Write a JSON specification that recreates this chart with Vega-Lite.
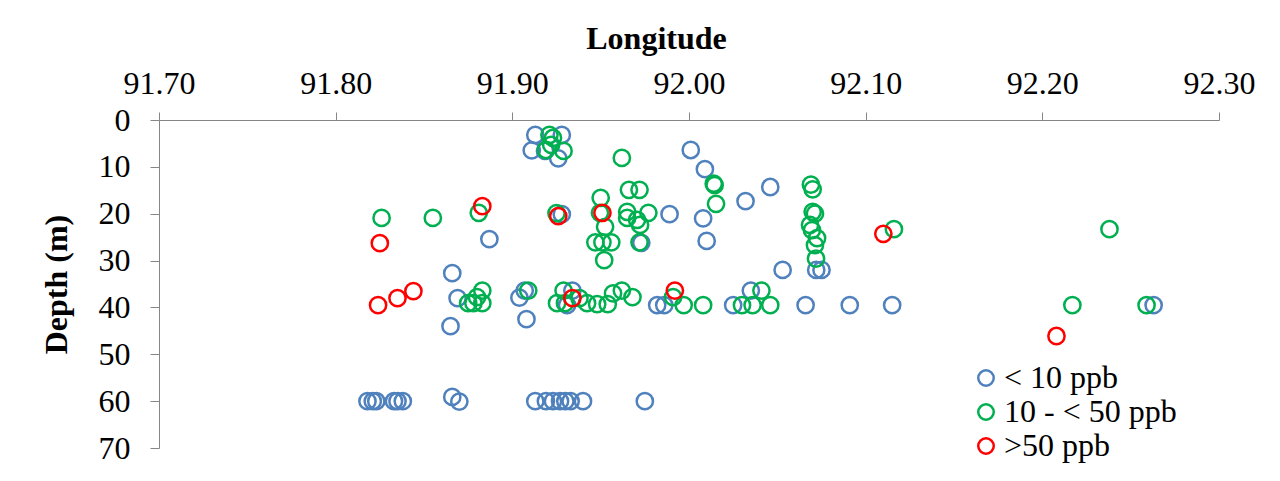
{
  "$schema": "https://vega.github.io/schema/vega-lite/v6.json",
  "width": 1060,
  "height": 328,
  "autosize": {"type": "none"},
  "padding": {"left": 159, "top": 120, "right": 61, "bottom": 33},
  "background": "white",
  "config": {
    "view": {"stroke": null},
    "font": "Liberation Serif",
    "axis": {
      "domainColor": "#868686",
      "tickColor": "#868686",
      "grid": false,
      "labelFont": "Liberation Serif",
      "labelFontSize": 32,
      "labelColor": "#000000",
      "labelFlush": false,
      "labelOverlap": false,
      "titleFont": "Liberation Serif",
      "titleFontSize": 32,
      "titleFontWeight": "bold",
      "titleColor": "#000000"
    },
    "legend": {
      "labelFont": "Liberation Serif",
      "labelFontSize": 32,
      "labelColor": "#000000",
      "labelLimit": 400
    }
  },
  "data": {
    "values": [
      {"lon": 91.913, "depth": 3.2, "conc": "< 10 ppb"},
      {"lon": 91.928, "depth": 3.2, "conc": "< 10 ppb"},
      {"lon": 91.911, "depth": 6.5, "conc": "< 10 ppb"},
      {"lon": 91.9185, "depth": 6.6, "conc": "< 10 ppb"},
      {"lon": 91.926, "depth": 8.2, "conc": "< 10 ppb"},
      {"lon": 92.001, "depth": 6.4, "conc": "< 10 ppb"},
      {"lon": 92.009, "depth": 10.5, "conc": "< 10 ppb"},
      {"lon": 92.032, "depth": 17.3, "conc": "< 10 ppb"},
      {"lon": 92.046, "depth": 14.3, "conc": "< 10 ppb"},
      {"lon": 91.989, "depth": 20.1, "conc": "< 10 ppb"},
      {"lon": 92.008, "depth": 21.0, "conc": "< 10 ppb"},
      {"lon": 92.010, "depth": 25.8, "conc": "< 10 ppb"},
      {"lon": 91.887, "depth": 25.4, "conc": "< 10 ppb"},
      {"lon": 91.928, "depth": 20.1, "conc": "< 10 ppb"},
      {"lon": 91.973, "depth": 26.2, "conc": "< 10 ppb"},
      {"lon": 92.053, "depth": 32.0, "conc": "< 10 ppb"},
      {"lon": 92.072, "depth": 32.0, "conc": "< 10 ppb"},
      {"lon": 92.075, "depth": 32.0, "conc": "< 10 ppb"},
      {"lon": 91.866, "depth": 32.7, "conc": "< 10 ppb"},
      {"lon": 91.869, "depth": 38.0, "conc": "< 10 ppb"},
      {"lon": 91.904, "depth": 37.9, "conc": "< 10 ppb"},
      {"lon": 91.907, "depth": 36.4, "conc": "< 10 ppb"},
      {"lon": 91.908, "depth": 42.5, "conc": "< 10 ppb"},
      {"lon": 91.865, "depth": 44.0, "conc": "< 10 ppb"},
      {"lon": 91.934, "depth": 36.4, "conc": "< 10 ppb"},
      {"lon": 91.931, "depth": 39.5, "conc": "< 10 ppb"},
      {"lon": 91.982, "depth": 39.5, "conc": "< 10 ppb"},
      {"lon": 91.986, "depth": 39.5, "conc": "< 10 ppb"},
      {"lon": 92.025, "depth": 39.5, "conc": "< 10 ppb"},
      {"lon": 92.035, "depth": 36.4, "conc": "< 10 ppb"},
      {"lon": 92.066, "depth": 39.5, "conc": "< 10 ppb"},
      {"lon": 92.091, "depth": 39.5, "conc": "< 10 ppb"},
      {"lon": 92.115, "depth": 39.5, "conc": "< 10 ppb"},
      {"lon": 92.263, "depth": 39.5, "conc": "< 10 ppb"},
      {"lon": 91.818, "depth": 60.0, "conc": "< 10 ppb"},
      {"lon": 91.821, "depth": 60.0, "conc": "< 10 ppb"},
      {"lon": 91.823, "depth": 60.0, "conc": "< 10 ppb"},
      {"lon": 91.833, "depth": 60.0, "conc": "< 10 ppb"},
      {"lon": 91.835, "depth": 60.0, "conc": "< 10 ppb"},
      {"lon": 91.838, "depth": 60.0, "conc": "< 10 ppb"},
      {"lon": 91.866, "depth": 59.1, "conc": "< 10 ppb"},
      {"lon": 91.870, "depth": 60.1, "conc": "< 10 ppb"},
      {"lon": 91.913, "depth": 60.0, "conc": "< 10 ppb"},
      {"lon": 91.919, "depth": 60.0, "conc": "< 10 ppb"},
      {"lon": 91.923, "depth": 60.0, "conc": "< 10 ppb"},
      {"lon": 91.927, "depth": 60.0, "conc": "< 10 ppb"},
      {"lon": 91.930, "depth": 60.0, "conc": "< 10 ppb"},
      {"lon": 91.933, "depth": 60.0, "conc": "< 10 ppb"},
      {"lon": 91.940, "depth": 60.0, "conc": "< 10 ppb"},
      {"lon": 91.975, "depth": 60.0, "conc": "< 10 ppb"},

      {"lon": 91.921, "depth": 3.2, "conc": "10 - < 50 ppb"},
      {"lon": 91.923, "depth": 3.8, "conc": "10 - < 50 ppb"},
      {"lon": 91.919, "depth": 6.4, "conc": "10 - < 50 ppb"},
      {"lon": 91.922, "depth": 5.3, "conc": "10 - < 50 ppb"},
      {"lon": 91.929, "depth": 6.6, "conc": "10 - < 50 ppb"},
      {"lon": 91.962, "depth": 8.1, "conc": "10 - < 50 ppb"},
      {"lon": 92.014, "depth": 13.6, "conc": "10 - < 50 ppb"},
      {"lon": 92.0145, "depth": 13.9, "conc": "10 - < 50 ppb"},
      {"lon": 92.0153, "depth": 17.9, "conc": "10 - < 50 ppb"},
      {"lon": 92.069, "depth": 13.8, "conc": "10 - < 50 ppb"},
      {"lon": 92.070, "depth": 14.8, "conc": "10 - < 50 ppb"},
      {"lon": 92.070, "depth": 19.6, "conc": "10 - < 50 ppb"},
      {"lon": 92.0713, "depth": 20.0, "conc": "10 - < 50 ppb"},
      {"lon": 92.0685, "depth": 22.4, "conc": "10 - < 50 ppb"},
      {"lon": 92.0696, "depth": 23.5, "conc": "10 - < 50 ppb"},
      {"lon": 92.0725, "depth": 25.2, "conc": "10 - < 50 ppb"},
      {"lon": 92.0713, "depth": 26.7, "conc": "10 - < 50 ppb"},
      {"lon": 92.0719, "depth": 29.6, "conc": "10 - < 50 ppb"},
      {"lon": 92.116, "depth": 23.3, "conc": "10 - < 50 ppb"},
      {"lon": 92.238, "depth": 23.3, "conc": "10 - < 50 ppb"},
      {"lon": 92.217, "depth": 39.5, "conc": "10 - < 50 ppb"},
      {"lon": 92.259, "depth": 39.5, "conc": "10 - < 50 ppb"},
      {"lon": 91.826, "depth": 20.9, "conc": "10 - < 50 ppb"},
      {"lon": 91.855, "depth": 20.9, "conc": "10 - < 50 ppb"},
      {"lon": 91.881, "depth": 19.8, "conc": "10 - < 50 ppb"},
      {"lon": 91.925, "depth": 19.9, "conc": "10 - < 50 ppb"},
      {"lon": 91.950, "depth": 16.6, "conc": "10 - < 50 ppb"},
      {"lon": 91.9496, "depth": 19.8, "conc": "10 - < 50 ppb"},
      {"lon": 91.9525, "depth": 22.8, "conc": "10 - < 50 ppb"},
      {"lon": 91.947, "depth": 26.1, "conc": "10 - < 50 ppb"},
      {"lon": 91.951, "depth": 26.1, "conc": "10 - < 50 ppb"},
      {"lon": 91.956, "depth": 26.1, "conc": "10 - < 50 ppb"},
      {"lon": 91.952, "depth": 29.9, "conc": "10 - < 50 ppb"},
      {"lon": 91.966, "depth": 14.9, "conc": "10 - < 50 ppb"},
      {"lon": 91.972, "depth": 14.9, "conc": "10 - < 50 ppb"},
      {"lon": 91.965, "depth": 19.6, "conc": "10 - < 50 ppb"},
      {"lon": 91.965, "depth": 20.9, "conc": "10 - < 50 ppb"},
      {"lon": 91.9706, "depth": 21.3, "conc": "10 - < 50 ppb"},
      {"lon": 91.9723, "depth": 22.4, "conc": "10 - < 50 ppb"},
      {"lon": 91.977, "depth": 19.8, "conc": "10 - < 50 ppb"},
      {"lon": 91.972, "depth": 26.1, "conc": "10 - < 50 ppb"},
      {"lon": 91.875, "depth": 39.1, "conc": "10 - < 50 ppb"},
      {"lon": 91.878, "depth": 39.1, "conc": "10 - < 50 ppb"},
      {"lon": 91.880, "depth": 37.8, "conc": "10 - < 50 ppb"},
      {"lon": 91.883, "depth": 36.4, "conc": "10 - < 50 ppb"},
      {"lon": 91.883, "depth": 39.1, "conc": "10 - < 50 ppb"},
      {"lon": 91.909, "depth": 36.4, "conc": "10 - < 50 ppb"},
      {"lon": 91.929, "depth": 36.4, "conc": "10 - < 50 ppb"},
      {"lon": 91.9253, "depth": 39.1, "conc": "10 - < 50 ppb"},
      {"lon": 91.9298, "depth": 39.1, "conc": "10 - < 50 ppb"},
      {"lon": 91.938, "depth": 38.0, "conc": "10 - < 50 ppb"},
      {"lon": 91.9423, "depth": 39.1, "conc": "10 - < 50 ppb"},
      {"lon": 91.948, "depth": 39.3, "conc": "10 - < 50 ppb"},
      {"lon": 91.954, "depth": 39.3, "conc": "10 - < 50 ppb"},
      {"lon": 91.957, "depth": 37.0, "conc": "10 - < 50 ppb"},
      {"lon": 91.962, "depth": 36.4, "conc": "10 - < 50 ppb"},
      {"lon": 91.968, "depth": 37.8, "conc": "10 - < 50 ppb"},
      {"lon": 91.991, "depth": 37.8, "conc": "10 - < 50 ppb"},
      {"lon": 91.997, "depth": 39.5, "conc": "10 - < 50 ppb"},
      {"lon": 92.008, "depth": 39.5, "conc": "10 - < 50 ppb"},
      {"lon": 92.030, "depth": 39.5, "conc": "10 - < 50 ppb"},
      {"lon": 92.036, "depth": 39.5, "conc": "10 - < 50 ppb"},
      {"lon": 92.041, "depth": 36.4, "conc": "10 - < 50 ppb"},
      {"lon": 92.046, "depth": 39.5, "conc": "10 - < 50 ppb"},

      {"lon": 91.883, "depth": 18.4, "conc": ">50 ppb"},
      {"lon": 91.825, "depth": 26.3, "conc": ">50 ppb"},
      {"lon": 91.926, "depth": 20.5, "conc": ">50 ppb"},
      {"lon": 91.951, "depth": 19.8, "conc": ">50 ppb"},
      {"lon": 92.110, "depth": 24.3, "conc": ">50 ppb"},
      {"lon": 92.208, "depth": 46.1, "conc": ">50 ppb"},
      {"lon": 91.824, "depth": 39.5, "conc": ">50 ppb"},
      {"lon": 91.835, "depth": 38.0, "conc": ">50 ppb"},
      {"lon": 91.844, "depth": 36.5, "conc": ">50 ppb"},
      {"lon": 91.934, "depth": 38.0, "conc": ">50 ppb"},
      {"lon": 91.992, "depth": 36.4, "conc": ">50 ppb"}
    ]
  },
  "mark": {"type": "point", "shape": "circle", "filled": false, "strokeWidth": 2.5, "size": 265, "opacity": 1},
  "encoding": {
    "x": {
      "field": "lon",
      "type": "quantitative",
      "scale": {"domain": [91.7, 92.3], "nice": false, "zero": false},
      "axis": {
        "orient": "top",
        "title": "Longitude",
        "values": [91.7, 91.8, 91.9, 92.0, 92.1, 92.2, 92.3],
        "format": ".2f",
        "tickSize": 8,
        "labelPadding": 12,
        "titleX": 497,
        "titleY": -72,
        "titleAlign": "center",
        "titleBaseline": "alphabetic"
      }
    },
    "y": {
      "field": "depth",
      "type": "quantitative",
      "scale": {"domain": [0, 70], "reverse": true, "nice": false},
      "axis": {
        "title": "Depth (m)",
        "values": [0, 10, 20, 30, 40, 50, 60, 70],
        "format": "d",
        "tickSize": 9,
        "labelPadding": 20,
        "titleX": -93,
        "titleY": 164,
        "titleAlign": "center",
        "titleBaseline": "alphabetic",
        "titleAngle": 270
      }
    },
    "color": {
      "field": "conc",
      "type": "nominal",
      "sort": ["< 10 ppb", "10 - < 50 ppb", ">50 ppb"],
      "scale": {"domain": ["< 10 ppb", "10 - < 50 ppb", ">50 ppb"], "range": ["#4F81BD", "#00B050", "#FF0000"]},
      "legend": {
        "title": null,
        "orient": "none",
        "legendX": 811,
        "legendY": 242,
        "padding": 0,
        "symbolType": "circle",
        "symbolSize": 240,
        "symbolStrokeWidth": 2.5,
        "labelOffset": 2,
        "labelLimit": 400,
        "rowPadding": 2
      }
    }
  }
}
